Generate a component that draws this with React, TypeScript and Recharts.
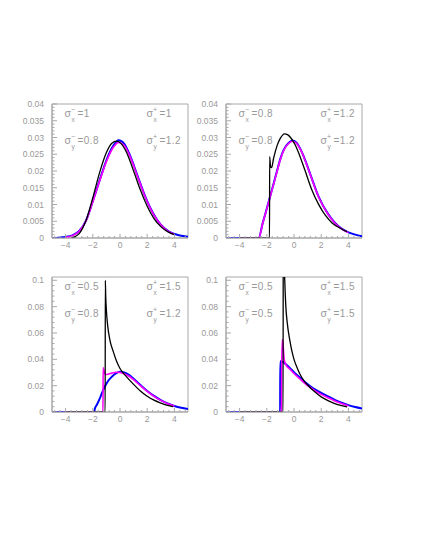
import { Line, LineChart, ReferenceArea, XAxis, YAxis } from 'recharts';

type Pt = [number, number];

// axis labels
const X_LABELS = [-4, -2, 0, 2, 4];
const Y_LABELS_TOP = [0, 0.005, 0.01, 0.015, 0.02, 0.025, 0.03, 0.035, 0.04];
const Y_LABELS_BOTTOM = [0, 0.02, 0.04, 0.06, 0.08, 0.1];

// sigma values per panel: [x-, x+, y-, y+]
const P1_SIGMAS = ['1', '1', '0.8', '1.2'];
const P2_SIGMAS = ['0.8', '1.2', '0.8', '1.2'];
const P3_SIGMAS = ['0.5', '1.5', '0.8', '1.2'];
const P4_SIGMAS = ['0.5', '1.5', '0.5', '1.5'];

// panel 1
const p1Blue: Pt[] = [
  [-5, 0], [-4.5, 0.0001], [-4, 0.0003], [-3.5, 0.0008], [-3, 0.0021], [-2.5, 0.0052],
  [-2, 0.011], [-1.5, 0.0172], [-1, 0.0232], [-0.5, 0.0275], [-0.1, 0.0292], [0.3, 0.0282],
  [0.75, 0.0245], [1.25, 0.019], [1.75, 0.0135], [2.25, 0.0088], [2.75, 0.0053], [3.25, 0.003],
  [3.75, 0.0016], [4.25, 0.0009], [4.75, 0.0005], [5, 0.0004],
];
const p1Magenta: Pt[] = [
  [-4, 0.0002], [-3.5, 0.0007], [-3, 0.002], [-2.5, 0.0051], [-2, 0.0108], [-1.5, 0.017],
  [-1, 0.0228], [-0.5, 0.027], [-0.1, 0.0285], [0.3, 0.0277], [0.75, 0.0242], [1.25, 0.0188],
  [1.75, 0.0133], [2.25, 0.0087], [2.75, 0.0052], [3.25, 0.0029], [3.75, 0.0015], [4, 0.0011],
];
const p1Black: Pt[] = [
  [-3.6, 0], [-3.3, 0.0004], [-3, 0.0013], [-2.5, 0.0052], [-2, 0.012], [-1.5, 0.0195],
  [-1, 0.0255], [-0.6, 0.0283], [-0.25, 0.0289], [0.1, 0.0281], [0.5, 0.0254], [1, 0.02],
  [1.5, 0.0143], [2, 0.0095], [2.5, 0.0058], [3, 0.0034], [3.5, 0.0019], [4, 0.001],
];

// panel 2
const p2Blue: Pt[] = [
  [-5, 0], [-2.6, 0], [-2.3, 0.0045], [-2, 0.0088], [-1.75, 0.0125], [-1.5, 0.0162],
  [-1.25, 0.02], [-1, 0.0237], [-0.75, 0.0264], [-0.4, 0.0284], [-0.1, 0.0291], [0.2, 0.0284],
  [0.5, 0.0263], [0.75, 0.024], [1.2, 0.019], [1.8, 0.0124], [2.5, 0.0072], [3, 0.0046],
  [3.5, 0.0028], [4, 0.0017], [4.5, 0.001], [5, 0.0005],
];
const p2Magenta: Pt[] = [
  [-4, 0], [-2.6, 0], [-2.3, 0.0044], [-2, 0.0087], [-1.75, 0.0124], [-1.5, 0.016],
  [-1.25, 0.0198], [-1, 0.0235], [-0.75, 0.0262], [-0.4, 0.0282], [-0.1, 0.0289], [0.2, 0.0282],
  [0.5, 0.0262], [0.75, 0.0239], [1.2, 0.0189], [1.8, 0.0123], [2.5, 0.0071], [3, 0.0045],
  [3.5, 0.0027], [4, 0.0016],
];
const p2Black: Pt[] = [
  [-4, 0], [-1.8, 0], [-1.79, 0.0243], [-1.72, 0.0212], [-1.65, 0.021], [-1.5, 0.0238],
  [-1.25, 0.0275], [-1, 0.0298], [-0.7, 0.0311], [-0.45, 0.0308], [-0.2, 0.0297], [0.1, 0.0277],
  [0.4, 0.0248], [0.8, 0.0203], [1.3, 0.0145], [1.8, 0.0101], [2.3, 0.0068], [2.8, 0.0045],
  [3.5, 0.0027], [3.9, 0.0019],
];

// panel 3
const p3Blue: Pt[] = [
  [-5, 0], [-1.9, 0], [-1.85, 0.0025], [-1.7, 0.0055], [-1.5, 0.01], [-1.3, 0.015],
  [-1.1, 0.0195], [-0.9, 0.0232], [-0.6, 0.0268], [-0.3, 0.0293], [0, 0.0305], [0.3, 0.03],
  [0.6, 0.0285], [1, 0.0252], [1.5, 0.0205], [2, 0.016], [2.5, 0.0122], [3, 0.009],
  [3.5, 0.0065], [4, 0.0046], [4.5, 0.0032], [5, 0.0022],
];
const p3Magenta: Pt[] = [
  [-4, 0], [-1.25, 0], [-1.24, 0.0335], [-1.18, 0.0315], [-1.1, 0.0285], [-0.9, 0.0287],
  [-0.6, 0.0295], [-0.3, 0.0302], [0, 0.03], [0.3, 0.0291], [0.6, 0.0275], [1, 0.0245],
  [1.5, 0.02], [2, 0.0157], [2.5, 0.0119], [3, 0.0088], [3.5, 0.0063], [4, 0.0045],
];
const p3Black: Pt[] = [
  [-4, 0], [-1.09, 0], [-1.08, 0.1], [-1.05, 0.088], [-1, 0.077], [-0.9, 0.065],
  [-0.75, 0.055], [-0.5, 0.046], [-0.25, 0.0385], [0, 0.033], [0.25, 0.0295], [0.5, 0.0265],
  [1, 0.021], [1.5, 0.016], [2, 0.012], [2.5, 0.009], [3, 0.0068], [3.5, 0.0051], [3.9, 0.0041],
];

// panel 4
const p4Blue: Pt[] = [
  [-5, 0], [-1.02, 0], [-1.01, 0.0385], [-0.85, 0.0382], [-0.6, 0.0362], [-0.3, 0.0333],
  [0, 0.0302], [0.4, 0.0265], [0.8, 0.0228], [1.2, 0.0196], [1.6, 0.0168], [2, 0.0145],
  [2.5, 0.0118], [3, 0.0092], [3.5, 0.007], [4, 0.0052], [4.5, 0.0038], [5, 0.0027],
];
const p4Magenta: Pt[] = [
  [-4, 0], [-0.92, 0], [-0.91, 0.03], [-0.86, 0.055], [-0.8, 0.05], [-0.72, 0.04],
  [-0.6, 0.036], [-0.3, 0.0325], [0, 0.0292], [0.4, 0.0255], [0.8, 0.0218], [1.2, 0.0186],
  [1.6, 0.0157], [2, 0.0134], [2.5, 0.0108], [3, 0.0084], [3.5, 0.0064], [4, 0.0047],
];
const p4Black: Pt[] = [
  [-4, 0], [-0.8, 0], [-0.79, 0.2], [-0.74, 0.125], [-0.68, 0.1], [-0.6, 0.08],
  [-0.5, 0.068], [-0.3, 0.054], [-0.15, 0.046], [0, 0.04], [0.25, 0.033], [0.5, 0.0275],
  [0.75, 0.0235], [1, 0.0205], [1.5, 0.0155], [2, 0.0115], [2.5, 0.0086], [3, 0.0064],
  [3.5, 0.0048], [3.9, 0.0038],
];

const GREY = '#a8a8a8';
const TEXT = '#999999';
const FONT = '"Liberation Sans", Arial, sans-serif';

const PLOT_W = 136;
const Y_AXIS_W = 40;
const X_AXIS_H = 20;
const TOP_PAD = 10;
const RIGHT_PAD = 10;

const steps = (from: number, to: number, step: number) =>
  Array.from({ length: Math.round((to - from) / step) + 1 }, (_, i) => +(from + i * step).toFixed(4));

const isMajor = (v: number, labels: number[]) => labels.some((l) => Math.abs(l - v) < 1e-9);

const toRows = (pts: Pt[]) => pts.map(([x, y]) => ({ x, y }));

function XTick(props: any) {
  const { x, y, payload } = props;
  const v = payload.value as number;
  const major = isMajor(v, X_LABELS);
  return (
    <g>
      <line x1={x} x2={x} y1={y} y2={y - (major ? 4 : 2)} stroke={GREY} />
      {major && (
        <text x={x} y={y + 10} textAnchor="middle" fontSize={8.5} fill={TEXT} fontFamily={FONT}>
          {v < 0 ? `\u2212${-v}` : String(v)}
        </text>
      )}
    </g>
  );
}

function makeYTick(labels: number[]) {
  return function YTick(props: any) {
    const { x, y, payload } = props;
    const v = payload.value as number;
    const major = isMajor(v, labels);
    return (
      <g>
        <line x1={x} x2={x + (major ? 5 : 2.5)} y1={y} y2={y} stroke={GREY} />
        {major && (
          <text x={x - 8} y={y + 3} textAnchor="end" fontSize={8.5} fill={TEXT} fontFamily={FONT}>
            {String(v)}
          </text>
        )}
      </g>
    );
  };
}

interface PanelProps {
  left: number;
  top: number;
  plotH: number;
  yMax: number;
  yLabels: number[];
  yStep: number;
  blue: Pt[];
  magenta: Pt[];
  black: Pt[];
}

function Panel({ left, top, plotH, yMax, yLabels, yStep, blue, magenta, black }: PanelProps) {
  const xTicks = steps(-4.8, 4.8, 0.4);
  const yTicks = steps(0, yLabels[yLabels.length - 1], yStep);
  const YTick = makeYTick(yLabels);
  return (
    <div style={{ position: 'absolute', left: left - Y_AXIS_W, top: top - TOP_PAD }}>
      <LineChart
        width={Y_AXIS_W + PLOT_W + RIGHT_PAD}
        height={TOP_PAD + plotH + X_AXIS_H}
        margin={{ top: TOP_PAD, right: RIGHT_PAD, bottom: 0, left: 0 }}
      >
        <XAxis
          type="number"
          dataKey="x"
          domain={[-5, 5]}
          ticks={xTicks}
          interval={0}
          tickSize={0}
          tickMargin={0}
          tickLine={false}
          tick={(p: any) => <XTick {...p} />}
          axisLine={{ stroke: GREY }}
          height={X_AXIS_H}
          allowDataOverflow
        />
        <YAxis
          type="number"
          domain={[0, yMax]}
          ticks={yTicks}
          interval={0}
          tickSize={0}
          tickMargin={0}
          tickLine={false}
          tick={(p: any) => <YTick {...p} />}
          axisLine={{ stroke: GREY }}
          width={Y_AXIS_W}
          allowDataOverflow
        />
        <ReferenceArea x1={-5} x2={5} y1={0} y2={yMax} fill="none" stroke={GREY} strokeWidth={1} />
        <Line data={toRows(blue)} dataKey="y" type="monotone" stroke="#0000ff" strokeWidth={2} dot={false} isAnimationActive={false} />
        <Line data={toRows(magenta)} dataKey="y" type="monotone" stroke="#ff00ff" strokeWidth={1.6} dot={false} isAnimationActive={false} />
        <Line data={toRows(black)} dataKey="y" type="monotone" stroke="#000000" strokeWidth={1.3} dot={false} isAnimationActive={false} />
      </LineChart>
    </div>
  );
}

function Sigma({ x, y, sign, sub, value }: { x: number; y: number; sign: string; sub: string; value: string }) {
  return (
    <g fill={TEXT} fontFamily={FONT}>
      <text x={x} y={y} fontSize={10.5}>σ</text>
      <text x={x + 6.5} y={y - 5.5} fontSize={7}>{sign}</text>
      <text x={x + 7} y={y + 4.5} fontSize={6.5}>{sub}</text>
      <text x={x + 13} y={y} fontSize={10} letterSpacing={0.4}>={value}</text>
    </g>
  );
}

function SigmaBlock({ left, top, s }: { left: number; top: number; s: string[] }) {
  return (
    <g>
      <Sigma x={left + 12.5} y={top + 13} sign={'\u2212'} sub="x" value={s[0]} />
      <Sigma x={left + 94.5} y={top + 13} sign="+" sub="x" value={s[1]} />
      <Sigma x={left + 12.5} y={top + 40} sign={'\u2212'} sub="y" value={s[2]} />
      <Sigma x={left + 94.5} y={top + 40} sign="+" sub="y" value={s[3]} />
    </g>
  );
}

export default function App() {
  return (
    <div style={{ position: 'absolute', left: 0, top: 0, width: 425, height: 550, background: '#fff' }}>
      <Panel left={52} top={104} plotH={134} yMax={0.04} yLabels={Y_LABELS_TOP} yStep={0.001} blue={p1Blue} magenta={p1Magenta} black={p1Black} />
      <Panel left={226} top={104} plotH={134} yMax={0.04} yLabels={Y_LABELS_TOP} yStep={0.001} blue={p2Blue} magenta={p2Magenta} black={p2Black} />
      <Panel left={52} top={277} plotH={135} yMax={0.1025} yLabels={Y_LABELS_BOTTOM} yStep={0.004} blue={p3Blue} magenta={p3Magenta} black={p3Black} />
      <Panel left={226} top={277} plotH={135} yMax={0.1025} yLabels={Y_LABELS_BOTTOM} yStep={0.004} blue={p4Blue} magenta={p4Magenta} black={p4Black} />
      <svg width={425} height={550} style={{ position: 'absolute', left: 0, top: 0, pointerEvents: 'none' }}>
        <SigmaBlock left={52} top={104} s={P1_SIGMAS} />
        <SigmaBlock left={226} top={104} s={P2_SIGMAS} />
        <SigmaBlock left={52} top={277} s={P3_SIGMAS} />
        <SigmaBlock left={226} top={277} s={P4_SIGMAS} />
      </svg>
    </div>
  );
}
